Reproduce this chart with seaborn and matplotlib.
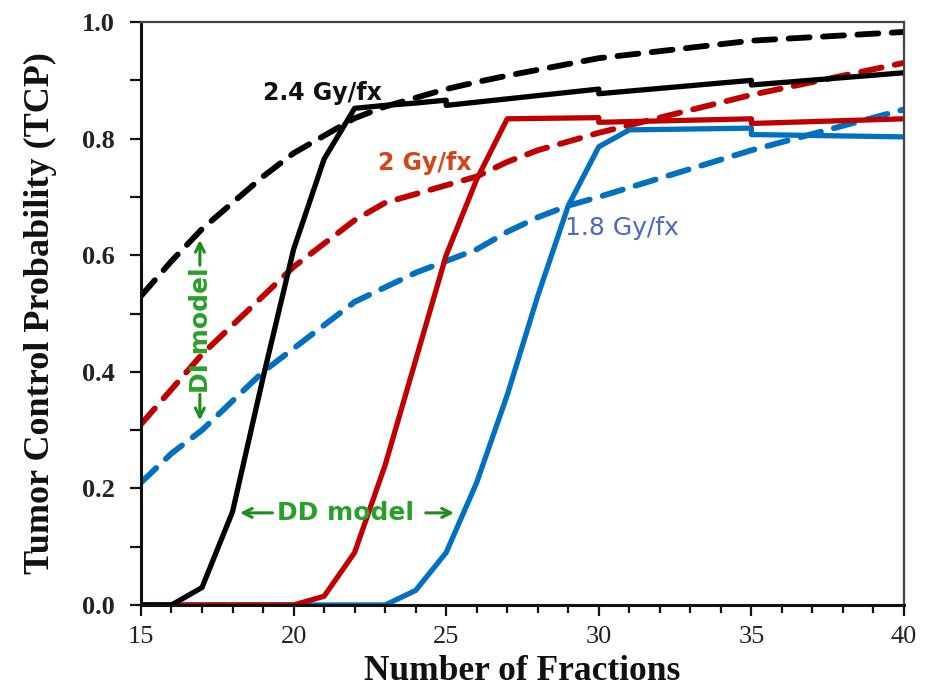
import matplotlib
matplotlib.use("Agg")
import matplotlib.pyplot as plt
from matplotlib.ticker import MultipleLocator, FormatStrFormatter
import seaborn as sns

# number of fractions and TCP values
# DD model (solid) - duplicated x values are the small steps in the curves
fx_dd_24 = [15, 16, 17, 18, 19, 20, 21, 22, 23, 24, 25, 25, 30, 30, 35, 35, 40]
tcp_dd_24 = [0.0, 0.0, 0.03, 0.16, 0.39, 0.61, 0.765, 0.852, 0.857, 0.861, 0.866, 0.857, 0.885, 0.877, 0.90, 0.892, 0.913]

fx_dd_20 = [15, 16, 17, 18, 19, 20, 21, 22, 23, 24, 25, 26, 27, 30, 30, 35, 35, 40]
tcp_dd_20 = [0.0, 0.0, 0.0, 0.0, 0.0, 0.0, 0.015, 0.09, 0.24, 0.42, 0.60, 0.73, 0.834, 0.836, 0.828, 0.834, 0.826, 0.834]

fx_dd_18 = [15, 16, 17, 18, 19, 20, 21, 22, 23, 24, 25, 26, 27, 28, 29, 30, 31, 35, 35, 40]
tcp_dd_18 = [0.0, 0.0, 0.0, 0.0, 0.0, 0.0, 0.0, 0.0, 0.0, 0.025, 0.09, 0.21, 0.36, 0.53, 0.685, 0.786, 0.815, 0.818, 0.807, 0.803]

# DI model (dashed)
fx_di = [15, 16, 17, 18, 19, 20, 21, 22, 23, 24, 25, 26, 27, 28, 29, 30, 35, 40]
tcp_di_24 = [0.53, 0.59, 0.645, 0.69, 0.735, 0.775, 0.805, 0.835, 0.855, 0.87, 0.885, 0.897, 0.908, 0.918, 0.928, 0.938, 0.968, 0.983]
tcp_di_20 = [0.31, 0.37, 0.43, 0.48, 0.53, 0.58, 0.62, 0.66, 0.69, 0.705, 0.72, 0.735, 0.76, 0.78, 0.795, 0.81, 0.875, 0.93]
tcp_di_18 = [0.21, 0.26, 0.30, 0.35, 0.40, 0.44, 0.48, 0.52, 0.545, 0.57, 0.59, 0.61, 0.64, 0.665, 0.685, 0.70, 0.78, 0.85]

black = "#000000"
red = "#c00000"
blue = "#0070c0"

sns.set_theme(style="ticks")
plt.rcParams['font.family'] = ['Liberation Serif', 'DejaVu Serif']

fig = plt.figure(figsize=(9.33, 6.95), dpi=100)
ax = fig.add_axes([0.1511, 0.1295, 0.8178, 0.8388])

dash = (0, (3.6, 2.3))
line_kws = dict(sort=False, estimator=None, ax=ax)

# dashed DI curves underneath
for y, c in [(tcp_di_18, blue), (tcp_di_20, red), (tcp_di_24, black)]:
    sns.lineplot(x=fx_di, y=y, color=c, lw=4.2, linestyle=dash, dash_capstyle='round', **line_kws)

# solid DD curves
for x, y, c in [(fx_dd_18, tcp_dd_18, blue), (fx_dd_20, tcp_dd_20, red), (fx_dd_24, tcp_dd_24, black)]:
    sns.lineplot(x=x, y=y, color=c, lw=3.8, solid_joinstyle='round', solid_capstyle='butt', **line_kws)

ax.set_xlim(15, 40)
ax.set_ylim(0, 1.0)
ax.xaxis.set_major_locator(MultipleLocator(5))
ax.xaxis.set_minor_locator(MultipleLocator(1))
ax.yaxis.set_major_locator(MultipleLocator(0.2))
ax.yaxis.set_minor_locator(MultipleLocator(0.1))
ax.yaxis.set_major_formatter(FormatStrFormatter('%.1f'))

ax.tick_params(axis='both', which='both', direction='out', color='#111111', width=1.6)
ax.tick_params(axis='y', which='both', length=8, pad=11, labelsize=19, labelcolor='#222222')
ax.tick_params(axis='x', which='major', length=8, pad=7, labelsize=19, labelcolor='#222222')
ax.tick_params(axis='x', which='minor', length=6)
for lab in ax.get_yticklabels():
    lab.set_fontweight('bold')

for side in ['left', 'bottom']:
    ax.spines[side].set_linewidth(2.2)
    ax.spines[side].set_color('#111111')
for side in ['top', 'right']:
    ax.spines[side].set_visible(True)
    ax.spines[side].set_linewidth(1.6)
    ax.spines[side].set_color('#444444')

ax.set_xlabel("Number of Fractions", fontsize=25.5, fontweight='bold', color='#111111')
ax.set_ylabel("Tumor Control Probability (TCP)", fontsize=26, fontweight='bold', color='#111111')
ax.xaxis.set_label_coords(0.5, -0.085)
ax.yaxis.set_label_coords(-0.11, 0.5)

# curve labels
sans = ['DejaVu Sans']
ax.text(19.0, 0.878, "2.4 Gy/fx", color='#111111', fontsize=17, fontweight='bold',
        family=sans, ha='left', va='center', zorder=6)
ax.text(22.77, 0.758, "2 Gy/fx", color='#d2461a', fontsize=17, fontweight='bold',
        family=sans, ha='left', va='center', zorder=6)
ax.text(28.9, 0.647, "1.8 Gy/fx", color='#4a66d0', fontsize=18,
        family=sans, ha='left', va='center', zorder=6)

# model annotations
green = '#2aa02a'
arrow_green = '#1e8c1e'
arrow = dict(arrowstyle='->', color=arrow_green, lw=2.2, mutation_scale=16)
ax.text(21.7, 0.158, "DD model", color=green, fontsize=18, fontweight='bold',
        family=sans, ha='center', va='center', zorder=6)
ax.annotate("", xy=(18.15, 0.158), xytext=(19.4, 0.158), arrowprops=arrow, zorder=6)
ax.annotate("", xy=(25.35, 0.158), xytext=(24.24, 0.158), arrowprops=arrow, zorder=6)

ax.text(16.98, 0.472, "DI model", color=green, fontsize=18, fontweight='bold',
        family=sans, ha='center', va='center', rotation=90, zorder=6)
ax.annotate("", xy=(16.93, 0.631), xytext=(16.93, 0.578), arrowprops=arrow, zorder=6)
ax.annotate("", xy=(16.93, 0.312), xytext=(16.93, 0.366), arrowprops=arrow, zorder=6)

plt.savefig("out.png", dpi=100)
